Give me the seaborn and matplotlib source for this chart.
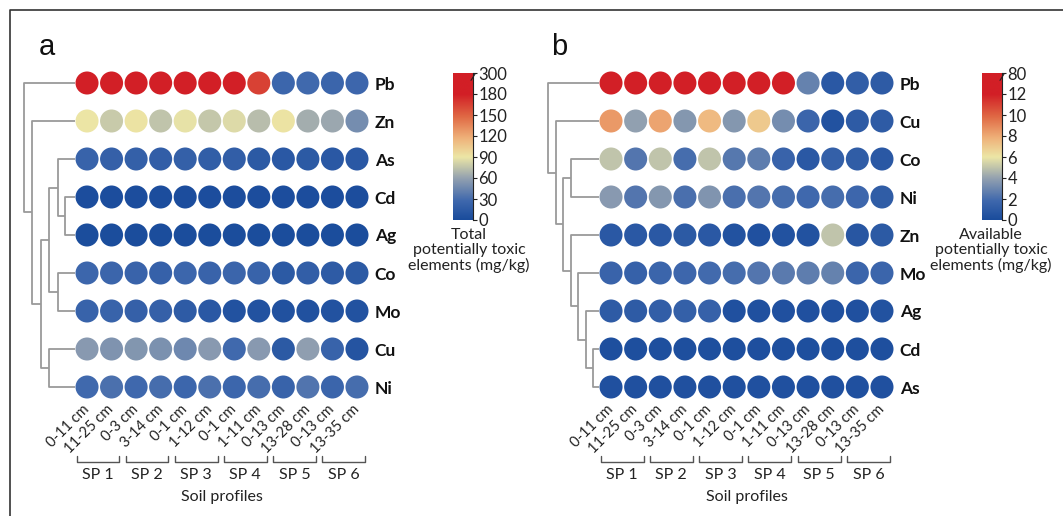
import numpy as np
import pandas as pd
import seaborn as sns
import matplotlib
matplotlib.use("Agg")
import matplotlib.pyplot as plt
from matplotlib.colors import LinearSegmentedColormap, Normalize
from matplotlib.lines import Line2D

# ---- data -------------------------------------------------------------
depths = ["0-11 cm", "11-25 cm", "0-3 cm", "3-14 cm", "0-1 cm", "1-12 cm",
          "0-1 cm", "1-11 cm", "0-13 cm", "13-28 cm", "0-13 cm", "13-35 cm"]
profiles = ["SP 1", "SP 2", "SP 3", "SP 4", "SP 5", "SP 6"]

# total concentrations (mg/kg), panel a, top to bottom
total_rows = ["Pb", "Zn", "As", "Cd", "Ag", "Co", "Mo", "Cu", "Ni"]
total_pb = [250, 260, 280, 240, 270, 230, 220, 165, 25, 28, 24, 26]
total_zn = [90, 78, 92, 75, 88, 76, 85, 72, 92, 65, 62, 48]
total_as = [22, 20, 19, 18, 19, 17, 18, 14, 12, 14, 12, 12]
total_cd = [2, 2, 2, 2, 2, 2, 2, 2, 2, 2, 2, 2]
total_ag = [1, 1, 1, 1, 1, 1, 1, 1, 1, 1, 1, 1]
total_co = [25, 24, 23, 21, 25, 23, 24, 22, 14, 18, 15, 14]
total_mo = [22, 22, 20, 20, 15, 12, 6, 6, 5, 5, 6, 6]
total_cu = [55, 52, 53, 50, 45, 55, 28, 55, 14, 58, 22, 8]
total_ni = [28, 32, 27, 30, 25, 32, 25, 30, 22, 34, 24, 30]

# available concentrations (mg/kg), panel b, top to bottom
avail_rows = ["Pb", "Cu", "Co", "Ni", "Zn", "Mo", "Ag", "Cd", "As"]
avail_pb = [40, 45, 50, 38, 42, 35, 30, 20, 2.8, 0.8, 1.2, 1.0]
avail_cu = [8.5, 3.9, 8.2, 3.6, 7.5, 3.6, 7.0, 3.2, 1.6, 0.4, 1.0, 1.0]
avail_co = [5.0, 2.3, 5.0, 2.0, 5.0, 2.4, 2.6, 1.5, 0.8, 1.3, 1.1, 0.8]
avail_ni = [3.7, 2.3, 3.6, 2.1, 3.5, 2.1, 2.3, 2.0, 1.8, 2.0, 1.7, 1.1]
avail_zn = [0.8, 0.8, 0.8, 0.9, 0.8, 0.4, 0.3, 0.4, 0.4, 5.0, 0.7, 0.9]
avail_mo = [1.5, 1.4, 1.6, 1.7, 1.9, 2.0, 2.3, 2.5, 2.6, 2.8, 1.6, 1.6]
avail_ag = [1.0, 1.0, 1.2, 1.3, 1.4, 0.3, 0.3, 0.3, 0.3, 0.3, 0.3, 0.4]
avail_cd = [0.2] * 12
avail_as = [0.3] * 12

# clustering trees: (left, right, linkage distance)
tree_a = ("Pb", ("Zn", ((("As", ("Cd", "Ag", 0.10), 0.17), ("Co", "Mo", 0.17), 0.26),
                        ("Cu", "Ni", 0.26), 0.34), 0.43), 0.51)
tree_b = ("Pb", ("Cu", (("Co", "Ni", 0.28),
                        ("Zn", ("Mo", ("Ag", ("Cd", "As", 0.06), 0.13), 0.21), 0.28), 0.36), 0.43), 0.51)

# colour scale limits and colourbar tick labels
vmax_a, vmax_b = 180, 12
cbar_ticks_a = ["0", "30", "60", "90", "120", "150", "180", "300"]
cbar_ticks_b = ["0", "2", "4", "6", "8", "10", "12", "80"]

cmap = LinearSegmentedColormap.from_list(
    "ptes", [(0.0, "#1a4c9c"), (0.15, "#3f68ad"), (0.33, "#93a1b0"),
             (0.5, "#ece6a6"), (0.65, "#efb27a"), (0.82, "#e06a45"), (1.0, "#d21f26")])

sns.set_theme(style="white")
plt.rcParams['font.family'] = ['Lato', 'DejaVu Sans']

W, H = 1063, 516
fig = plt.figure(figsize=(W / 100, H / 100), dpi=100)


def rect(x0, y0, x1, y1):
    return [x0 / W, (H - y1) / H, (x1 - x0) / W, (y1 - y0) / H]


def to_long(rows, arrays):
    recs = []
    for r, name in enumerate(rows):
        for c, v in enumerate(arrays[name]):
            recs.append({"row": r, "col": c, "value": v})
    return pd.DataFrame(recs)


def draw_tree(ax, node, ypos):
    if isinstance(node, str):
        return ypos[node], 0.0
    left, right, h = node
    y1, h1 = draw_tree(ax, left, ypos)
    y2, h2 = draw_tree(ax, right, ypos)
    ax.plot([h1, h, h, h2], [y1, y1, y2, y2], color="#9a9a9a", lw=1.3,
            solid_capstyle="butt")
    return (y1 + y2) / 2, h


def panel(x_dots, x_dend, x_cbar, x_letter, x_cblabel, rows, arrays, tree,
          vmax, cticks, letter, cb_label):
    # dots
    ax = fig.add_axes(rect(x_dots[0], 64, x_dots[1], 406))
    df = to_long(rows, arrays)
    sns.scatterplot(data=df, x="col", y="row", hue="value", palette=cmap,
                    hue_norm=Normalize(0, vmax, clip=True), s=275,
                    edgecolor="none", linewidth=0, legend=False, ax=ax)
    ax.set_xlim(-0.5, 11.5)
    ax.set_ylim(8.5, -0.5)
    ax.set_xlabel("")
    ax.set_ylabel("")
    for s in ax.spines.values():
        s.set_visible(False)
    ax.set_xticks(range(len(depths)))
    ax.set_xticklabels(depths, rotation=45, ha="right", va="center",
                       rotation_mode="anchor", fontsize=10.5, color="#222222")
    ax.yaxis.tick_right()
    ax.set_yticks(range(len(rows)))
    ax.set_yticklabels(rows, fontsize=12.5, fontweight="bold", color="#111111")
    ax.tick_params(axis="both", length=0)
    ax.tick_params(axis="x", pad=1)
    ax.tick_params(axis="y", pad=4)
    # soil profile brackets
    tr = ax.get_xaxis_transform()
    for k, name in enumerate(profiles):
        xa, xb = 2 * k - 0.42, 2 * k + 1 + 0.32
        ax.add_line(Line2D([xa, xa, xb, xb], [-0.145, -0.165, -0.165, -0.145],
                           transform=tr, color="#555555", lw=1.0, clip_on=False))
        ax.text((xa + xb) / 2, -0.18, name, transform=tr, ha="center", va="top",
                fontsize=11.5, color="#222222")
    ax.text(5.5, -0.245, "Soil profiles", transform=tr, ha="center", va="top",
            fontsize=11.5, color="#222222")

    # dendrogram
    dax = fig.add_axes(rect(x_dend[0], 64, x_dend[1], 406))
    draw_tree(dax, tree, {n: i for i, n in enumerate(rows)})
    dax.set_xlim(0.55, 0)
    dax.set_ylim(8.5, -0.5)
    dax.axis("off")

    # colourbar with a broken top segment
    cax = fig.add_axes(rect(x_cbar[0], 73, x_cbar[1], 220))
    n = len(cticks) - 1
    pos = np.linspace(0, n, 400)
    grad = cmap(np.clip(pos / (n - 1), 0, 1))[:, None, :]
    cax.imshow(grad, extent=[0, 1, 0, n], origin="lower", aspect="auto")
    cax.set_xlim(0, 1)
    cax.set_ylim(0, n)
    cax.set_xticks([])
    cax.yaxis.tick_right()
    cax.set_yticks(range(n + 1))
    cax.set_yticklabels(cticks, fontsize=12, color="#222222")
    cax.tick_params(axis="y", length=3, width=0.8, pad=1, color="#222222")
    for side in ["left", "top", "bottom"]:
        cax.spines[side].set_visible(False)
    cax.spines["right"].set_color("#222222")
    cax.spines["right"].set_linewidth(0.8)
    cax.plot([0.9, 1.1], [n - 0.35, n - 0.05], color="#222222", lw=0.8,
             clip_on=False)
    fig.text(x_cblabel / W, (H - 228) / H, cb_label, ha="center", va="top",
             fontsize=11.5, linespacing=1.1, color="#222222")

    fig.text(x_letter / W, (H - 33) / H, letter, fontsize=21,
             family="Liberation Sans", va="top", ha="left", color="#111111")


panel((74.75, 369.25), (20, 75), (453, 473), 39, 469, total_rows,
      {"Pb": total_pb, "Zn": total_zn, "As": total_as, "Cd": total_cd,
       "Ag": total_ag, "Co": total_co, "Mo": total_mo, "Cu": total_cu,
       "Ni": total_ni},
      tree_a, vmax_a, cbar_ticks_a, "a",
      "Total\npotentially toxic\nelements (mg/kg)")

panel((598.7, 894.3), (544, 599), (982, 1002), 551, 991, avail_rows,
      {"Pb": avail_pb, "Cu": avail_cu, "Co": avail_co, "Ni": avail_ni,
       "Zn": avail_zn, "Mo": avail_mo, "Ag": avail_ag, "Cd": avail_cd,
       "As": avail_as},
      tree_b, vmax_b, cbar_ticks_b, "b",
      "Available\npotentially toxic\nelements (mg/kg)")

# outer frame (top and left edges)
fig.add_artist(Line2D([10 / W, 10 / W, 1.0], [0.0, 1 - 10 / H, 1 - 10 / H],
                      transform=fig.transFigure, color="#333333", lw=1.2))

fig.savefig("out.png", dpi=100, facecolor="white")
